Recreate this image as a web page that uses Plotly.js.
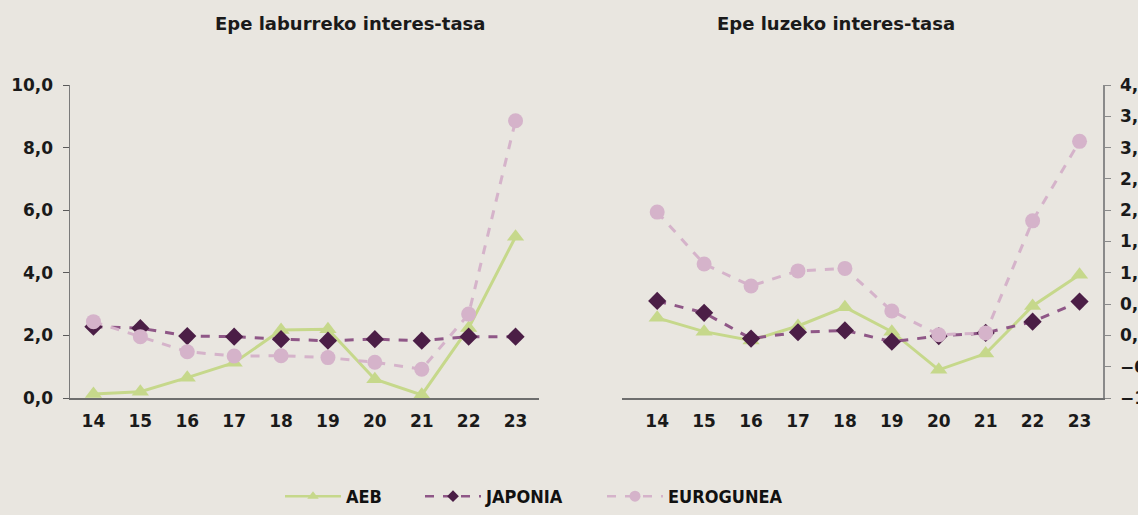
<!DOCTYPE html>
<html>
<head>
<meta charset="utf-8">
<script src="https://cdn.plot.ly/plotly-3.0.1.min.js"></script>
<style>
html,body{margin:0;padding:0;background:#e9e6e0;}
#chart{width:1138px;height:515px;}
</style>
</head>
<body>
<div id="chart"></div>
<script>
// Data
const years = ['14','15','16','17','18','19','20','21','22','23'];
const seriesNames = ['AEB', 'JAPONIA', 'EUROGUNEA'];
const panelTitles = ['Epe laburreko interes-tasa', 'Epe luzeko interes-tasa'];
// Short-term interest rate (left axis)
const aebShort  = [0.13, 0.20, 0.65, 1.13, 2.17, 2.20, 0.60, 0.10, 2.24, 5.15];
const japShort  = [2.28, 2.23, 1.98, 1.96, 1.88, 1.83, 1.88, 1.83, 1.96, 1.96];
const euroShort = [2.44, 1.96, 1.48, 1.34, 1.35, 1.29, 1.14, 0.92, 2.68, 8.86];
// Long-term interest rate (right axis)
const aebLong  = [0.28, 0.06, -0.08, 0.15, 0.45, 0.06, -0.55, -0.29, 0.47, 0.97];
const japLong  = [0.55, 0.36, -0.05, 0.05, 0.08, -0.10, -0.01, 0.04, 0.22, 0.54];
const euroLong = [1.97, 1.14, 0.79, 1.03, 1.07, 0.39, 0.01, 0.04, 1.83, 3.10];

const W = 1138, H = 515;
const FONT = 'DejaVu Sans';
const styles = [
  {line:{color:'#c6d88b', width:3, dash:'solid'}, marker:{symbol:'triangle-up', size:15, color:'#c6d88b'}},
  {line:{color:'#8f5787', width:3, dash:'dash'}, marker:{symbol:'diamond', size:14, color:'#4b1e46'}},
  {line:{color:'#d5b3ca', width:3, dash:'dash'}, marker:{symbol:'circle', size:15, color:'#d5b3ca'}}
];
const legendMarkerSize = [10, 9, 11];
const legendIds = ['legend', 'legend2', 'legend3'];
const shortData = [aebShort, japShort, euroShort];
const longData = [aebLong, japLong, euroLong];

const traces = [];
shortData.forEach((d, i) => {
  traces.push({x: years, y: d, name: seriesNames[i], type:'scatter', mode:'lines+markers',
    xaxis:'x', yaxis:'y', line: styles[i].line, marker: styles[i].marker, showlegend:false, cliponaxis:false});
});
longData.forEach((d, i) => {
  traces.push({x: years, y: d, name: seriesNames[i], type:'scatter', mode:'lines+markers',
    xaxis:'x2', yaxis:'y2', line: styles[i].line, marker: styles[i].marker, showlegend:false, cliponaxis:false});
});
// legend-only entries (no data)
seriesNames.forEach((n, i) => {
  traces.push({x:[null], y:[null], name: n, type:'scatter', mode:'lines+markers',
    xaxis:'x', yaxis:'y', line: {color: styles[i].line.color, width: 2.5, dash: styles[i].line.dash},
    marker: {symbol: styles[i].marker.symbol, size: legendMarkerSize[i], color: styles[i].marker.color},
    showlegend:true, legend: legendIds[i]});
});

const yBottom = 1 - 398/H, yTop = 1 - 85/H;
const tickFont = {family: FONT, size: 17, color: '#1a1a1a', weight: 'bold'};
const legendFont = {family: 'DejaVu Sans Condensed', size: 18, color:'#111111', weight:'bold'};
const legendBase = {orientation:'h', xanchor:'left', y: 0, yanchor:'bottom', font: legendFont,
  bgcolor:'rgba(0,0,0,0)', itemwidth: 56};
const legendX = [280, 420, 602];

const layout = {
  width: W, height: H,
  margin: {l:0, r:0, t:0, b:0},
  paper_bgcolor: '#e9e6e0',
  plot_bgcolor: '#e9e6e0',
  separators: ', ',
  font: {family: FONT, color:'#1a1a1a'},
  xaxis: {
    domain: [70/W, 539/W], type:'category', range:[-0.5, 9.5],
    showgrid:false, zeroline:false, showline:true, linecolor:'#6e6e6e', linewidth:2,
    ticks:'', tickfont: tickFont, anchor:'y', ticklabelstandoff: 7
  },
  yaxis: {
    domain: [yBottom, yTop], range:[0, 10], dtick:2, tickformat:'.1f',
    showgrid:false, zeroline:false, showline:true, linecolor:'#7a7a7a', linewidth:1.5,
    ticks:'outside', ticklen:6, tickcolor:'#5a5a5a', tickwidth:1, tickfont: tickFont,
    anchor:'x', ticklabelstandoff: 6
  },
  xaxis2: {
    domain: [622/W, 1103/W], type:'category', range:[-0.75, 9.5],
    showgrid:false, zeroline:false, showline:true, linecolor:'#6e6e6e', linewidth:2,
    ticks:'', tickfont: tickFont, anchor:'y2', ticklabelstandoff: 7
  },
  yaxis2: {
    domain: [yBottom, yTop], range:[-1, 4], dtick:0.5, tickformat:'.1f',
    showgrid:false, zeroline:false, showline:true, linecolor:'#8a8a8a', linewidth:1.5,
    ticks:'outside', ticklen:6, tickcolor:'#8a8a8a', tickwidth:1, tickfont: tickFont,
    anchor:'x2', side:'right', ticklabelstandoff: 6
  },
  legend: Object.assign({}, legendBase, {x: legendX[0]/W}),
  legend2: Object.assign({}, legendBase, {x: legendX[1]/W}),
  legend3: Object.assign({}, legendBase, {x: legendX[2]/W}),
  annotations: [
    {text: panelTitles[0], xref:'paper', yref:'paper', x: 350/W, y: 1 - 23/H, xanchor:'center', yanchor:'middle',
     showarrow:false, font:{family: FONT, size:18, color:'#1a1a1a', weight:'bold'}},
    {text: panelTitles[1], xref:'paper', yref:'paper', x: 836/W, y: 1 - 23/H, xanchor:'center', yanchor:'middle',
     showarrow:false, font:{family: FONT, size:18, color:'#1a1a1a', weight:'bold'}}
  ]
};

Plotly.newPlot('chart', traces, layout, {displayModeBar:false, staticPlot:true});
</script>
</body>
</html>
